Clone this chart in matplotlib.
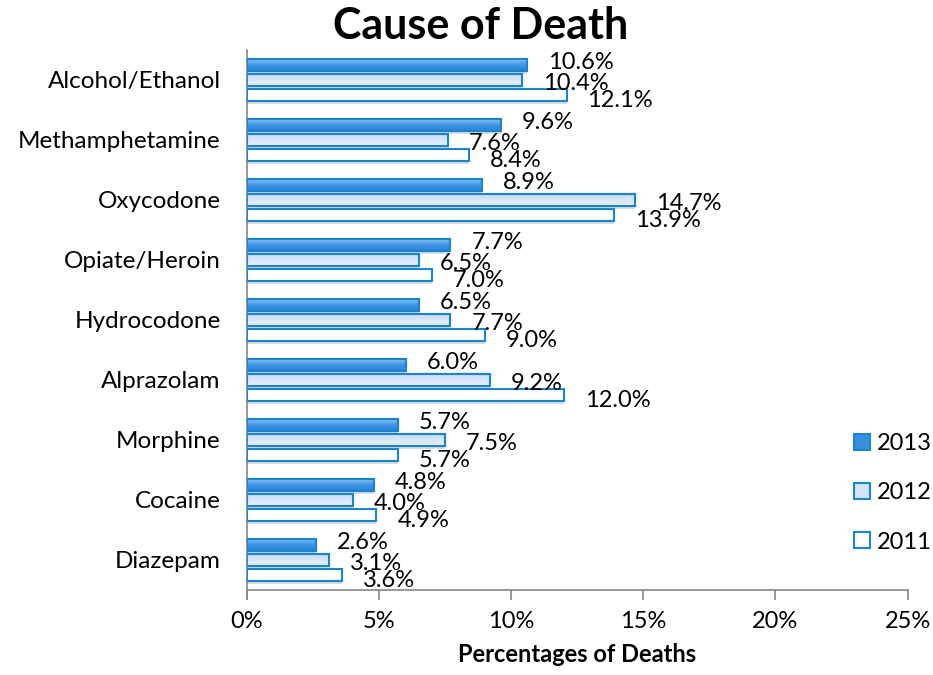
import numpy as np
import matplotlib
matplotlib.use("Agg")
import matplotlib.pyplot as plt
from matplotlib.patches import Patch
from matplotlib.colors import LinearSegmentedColormap
from matplotlib.ticker import FuncFormatter

plt.rcParams['font.family'] = ['Lato', 'DejaVu Sans']

causes = ["Alcohol/Ethanol", "Methamphetamine", "Oxycodone", "Opiate/Heroin",
          "Hydrocodone", "Alprazolam", "Morphine", "Cocaine", "Diazepam"]
years = ["2013", "2012", "2011"]
pct_2013 = [10.6, 9.6, 8.9, 7.7, 6.5, 6.0, 5.7, 4.8, 2.6]
pct_2012 = [10.4, 7.6, 14.7, 6.5, 7.7, 9.2, 7.5, 4.0, 3.1]
pct_2011 = [12.1, 8.4, 13.9, 7.0, 9.0, 12.0, 5.7, 4.9, 3.6]

faces = ["#3a8ee0", "#d3e4f9", "#ffffff"]
# top -> bottom shading for each series
grads = [["#86c0f2", "#3f95e6", "#2a84da"],
         ["#c6dcf8", "#dae8fb", "#e6f0fd"],
         None]
edge = "#1a84cc"

fig = plt.figure(figsize=(9.33, 6.75), dpi=100)
ax = fig.add_axes([0.2647, 0.126, 0.708, 0.800])

y = np.arange(len(causes))
offsets = [-0.25, 0.0, 0.25]
label_dy = [2.0, -2.2, -4.0]
for vals, off, fc, grad, dy in zip([pct_2013, pct_2012, pct_2011], offsets,
                                   faces, grads, label_dy):
    # soft drop shadow under each bar
    ax.barh(y + off + 0.045, vals, height=0.2, color="#9a9a9a", alpha=0.35,
            linewidth=0, zorder=2)
    bars = ax.barh(y + off, vals, height=0.2, color=fc, edgecolor=edge,
                   linewidth=1.5, zorder=3)
    if grad is not None:
        cmap = LinearSegmentedColormap.from_list("g", grad)
        for b in bars:
            x0, y0 = b.get_x(), b.get_y()
            im = ax.imshow(np.linspace(0, 1, 32).reshape(-1, 1), cmap=cmap,
                           aspect="auto", interpolation="bilinear", origin="upper",
                           extent=(x0, x0 + b.get_width(), y0 + b.get_height(), y0),
                           zorder=3.5)
            im.set_clip_path(b)
        ax.barh(y + off, vals, height=0.2, color="none", edgecolor=edge,
                linewidth=1.5, zorder=3.6)
    for b, v in zip(bars, vals):
        ax.annotate(f"{v:.1f}%", (v, b.get_y() + b.get_height() / 2),
                    xytext=(15, dy), textcoords="offset points",
                    ha="left", va="center", fontsize=17, zorder=4)

ax.set_ylim(len(causes) - 0.5, -0.5)
ax.set_xlim(0, 25)
ax.set_xticks([0, 5, 10, 15, 20, 25])
ax.xaxis.set_major_formatter(FuncFormatter(lambda v, p: f"{v:.0f}%"))
ax.set_yticks(y)
ax.set_yticklabels(causes)
ax.tick_params(axis="y", length=0, labelsize=17.5, pad=19)
ax.tick_params(axis="x", length=7, width=1.2, color="#888888", labelsize=17, pad=8)
for s in ["top", "right"]:
    ax.spines[s].set_visible(False)
for s in ["left", "bottom"]:
    ax.spines[s].set_color("#888888")
    ax.spines[s].set_linewidth(1.2)
ax.spines["left"].set_bounds(len(causes) - 0.5 + 0.15, -0.5)

ax.set_xlabel("Percentages of Deaths", fontsize=17, fontweight="bold", labelpad=8)
fig.text(0.515, 0.962, "Cause of Death", ha="center", va="center",
         fontsize=31, fontweight="bold")

handles = [Patch(facecolor=fc, edgecolor=edge, linewidth=1.5) for fc in faces]
fig.legend(handles, years, loc="center left", bbox_to_anchor=(0.893, 0.27),
           frameon=False, fontsize=17, labelspacing=1.2,
           handlelength=0.65, handleheight=0.65, handletextpad=0.3)

fig.savefig("out.png", dpi=100)
